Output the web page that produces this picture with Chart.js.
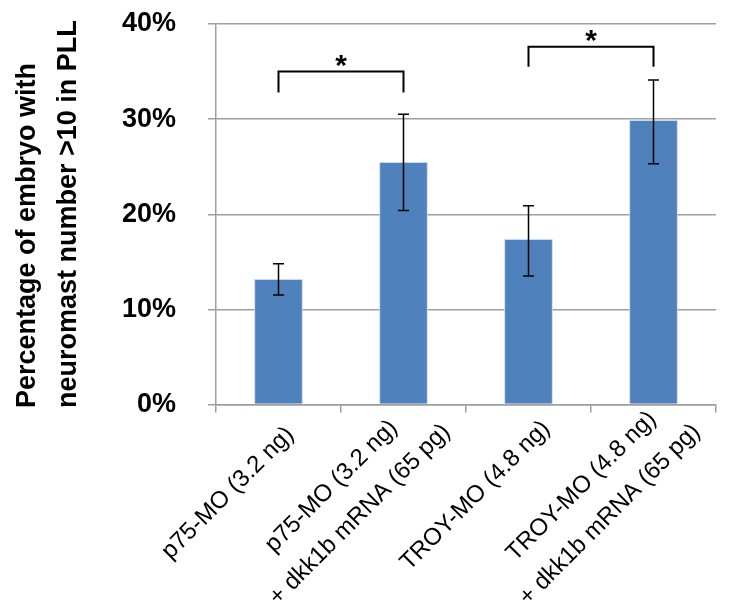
<!DOCTYPE html>
<html>
<head>
<meta charset="utf-8">
<script src="https://cdn.jsdelivr.net/npm/chart.js@4/dist/chart.umd.min.js"></script>
<style>
  html, body { margin: 0; padding: 0; background: #fff; }
</style>
</head>
<body>
<canvas id="neuromastChart" width="742" height="613"></canvas>
<script>
const categories = [
  ["p75-MO (3.2 ng)"],
  ["p75-MO (3.2 ng)", "+ dkk1b mRNA (65 pg)"],
  ["TROY-MO (4.8 ng)"],
  ["TROY-MO (4.8 ng)", "+ dkk1b mRNA (65 pg)"]
];
const percentValues = [13.2, 25.5, 17.4, 29.9];
const errLow = [11.5, 20.4, 13.5, 25.3];
const errHigh = [14.8, 30.5, 20.9, 34.1];
const yTicks = [0, 10, 20, 30, 40];
const yTitle = ["Percentage of embryo with", "neuromast number >10 in PLL"];
// significance brackets: from bar, to bar, bracket level, leg end (in %)
const brackets = [[0, 1, 35.0, 32.8], [2, 3, 37.6, 35.5]];

const FONT = "'Liberation Sans', Arial, sans-serif";
const GRID = "#9E9E9E";

const overlay = {
  id: "overlay",
  afterDatasetsDraw(chart) {
    const ctx = chart.ctx;
    const x = chart.scales.x, y = chart.scales.y;
    ctx.save();

    // error bars
    ctx.strokeStyle = "#000";
    ctx.lineWidth = 1.5;
    percentValues.forEach((v, i) => {
      const px = x.getPixelForValue(i);
      const lo = y.getPixelForValue(errLow[i]);
      const hi = y.getPixelForValue(errHigh[i]);
      ctx.beginPath();
      ctx.moveTo(px, lo); ctx.lineTo(px, hi);
      ctx.moveTo(px - 5.5, lo); ctx.lineTo(px + 5.5, lo);
      ctx.moveTo(px - 5.5, hi); ctx.lineTo(px + 5.5, hi);
      ctx.stroke();
    });

    // brackets with asterisks
    ctx.lineWidth = 2;
    ctx.font = "bold 30px " + FONT;
    ctx.fillStyle = "#000";
    ctx.textAlign = "center";
    ctx.textBaseline = "alphabetic";
    brackets.forEach(([a, b, level, leg]) => {
      const xa = x.getPixelForValue(a), xb = x.getPixelForValue(b);
      const yl = y.getPixelForValue(level), yg = y.getPixelForValue(leg);
      ctx.beginPath();
      ctx.moveTo(xa, yg); ctx.lineTo(xa, yl); ctx.lineTo(xb, yl); ctx.lineTo(xb, yg);
      ctx.stroke();
      const m = ctx.measureText("*");
      const asc = m.actualBoundingBoxAscent, desc = m.actualBoundingBoxDescent;
      const centre = yl - 11;
      ctx.fillText("*", (xa + xb) / 2, centre + (asc - desc) / 2);
    });

    // rotated category labels
    ctx.font = "24px " + FONT;
    ctx.fillStyle = "#000";
    ctx.textBaseline = "middle";
    ctx.textAlign = "center";
    categories.forEach((lines, i) => {
      const px = x.getPixelForValue(i);
      const widths = lines.map(t => ctx.measureText(t).width);
      const maxW = Math.max(...widths);
      const endU = 0.35 * maxW - 72;
      const lh = 40;
      ctx.save();
      ctx.translate(px, x.top);
      ctx.rotate(-Math.PI / 4);
      lines.forEach((t, j) => {
        const v = 27 + (j - (lines.length - 1) / 2) * lh;
        ctx.fillText(t, endU - maxW / 2, v);
      });
      ctx.restore();
    });

    // y axis title, two lines reading upwards
    ctx.font = "bold 27px " + FONT;
    ctx.textAlign = "left";
    ctx.textBaseline = "alphabetic";
    [35, 76].forEach((bx, j) => {
      ctx.save();
      ctx.translate(bx, 408);
      ctx.rotate(-Math.PI / 2);
      ctx.fillText(yTitle[j], 0, 0);
      ctx.restore();
    });

    ctx.restore();
  }
};

new Chart(document.getElementById("neuromastChart"), {
  type: "bar",
  data: {
    labels: categories,
    datasets: [{
      data: percentValues,
      backgroundColor: "#4F81BD",
      borderColor: "#C9D8EE",
      borderWidth: 1,
      barPercentage: 0.39,
      categoryPercentage: 1
    }]
  },
  options: {
    responsive: false,
    animation: false,
    devicePixelRatio: 1,
    layout: { padding: { top: 24, right: 26, left: 0, bottom: 0 } },
    plugins: { legend: { display: false }, tooltip: { enabled: false } },
    scales: {
      x: {
        grid: { offset: true, drawOnChartArea: false, drawTicks: true, tickLength: 8, color: GRID, lineWidth: 1.5 },
        border: { color: GRID, width: 1.5 },
        ticks: { display: false },
        afterFit(s) { s.height = 613 - 404.5; }
      },
      y: {
        min: 0,
        max: 40,
        afterBuildTicks(s) { s.ticks = yTicks.map(v => ({ value: v })); },
        ticks: {
          padding: 32,
          color: "#000",
          font: { family: FONT, size: 27, weight: "bold" },
          callback: v => v + "%"
        },
        grid: { color: GRID, lineWidth: 1.5, tickLength: 8 },
        border: { color: GRID, width: 1.5 },
        afterFit(s) {
          s.width = 216;
          s.paddingTop = 0;
          s.paddingBottom = 0;
        }
      }
    }
  },
  plugins: [overlay]
});
</script>
</body>
</html>
